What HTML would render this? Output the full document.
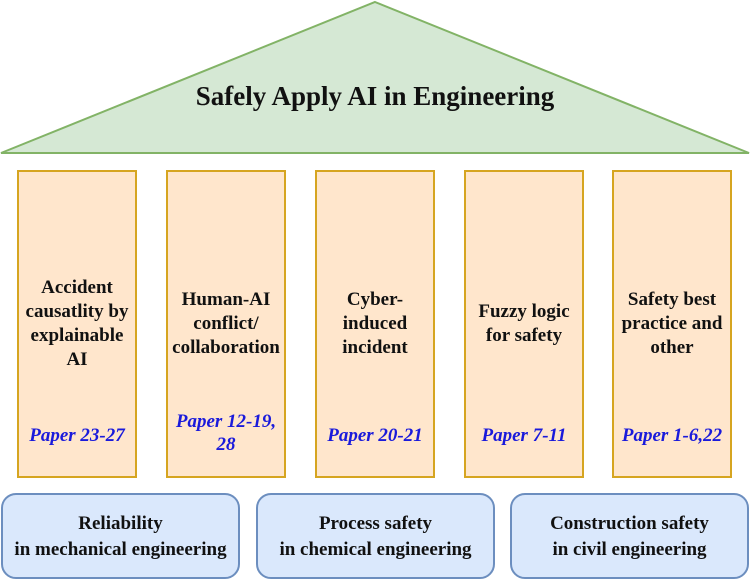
<!DOCTYPE html>
<html><head><style>
body{margin:0;width:750px;height:580px;position:relative;background:#fff;font-family:"Liberation Serif",serif;font-weight:bold;overflow:hidden}
.col{position:absolute;top:170px;width:120px;height:308px;background:#ffe6cc;border:2px solid #d6a520;box-sizing:border-box}
.t{position:absolute;left:-4px;right:-4px;text-align:center;font-size:19px;line-height:24px;color:#111}
.p{position:absolute;left:-6px;right:-6px;text-align:center;font-size:19px;line-height:23px;color:#1a1adb;font-style:italic}
.b{position:absolute;top:493px;height:86px;background:#dae8fc;border:2px solid #6c8ebf;border-radius:15px;box-sizing:border-box;text-align:center;font-size:19px;line-height:26px;padding-top:16px;color:#111}
</style></head><body>
<svg width="750" height="160" style="position:absolute;left:0;top:0">
<polygon points="375,2 749,153 1,153" fill="#d5e8d4" stroke="#82b366" stroke-width="2"/>
<text x="375" y="105" text-anchor="middle" font-family="Liberation Serif" font-weight="bold" font-size="27" fill="#111">Safely Apply AI in Engineering</text>
</svg>
<div class="col" style="left:17px"><div class="t" style="top:104px">Accident<br>causatlity by<br>explainable<br>AI</div><div class="p" style="top:252px">Paper 23-27</div></div>
<div class="col" style="left:166px"><div class="t" style="top:116px">Human-AI<br>conflict/<br>collaboration</div><div class="p" style="top:238px">Paper 12-19,<br>28</div></div>
<div class="col" style="left:315px"><div class="t" style="top:116px">Cyber-<br>induced<br>incident</div><div class="p" style="top:252px">Paper 20-21</div></div>
<div class="col" style="left:464px"><div class="t" style="top:128px">Fuzzy logic<br>for safety</div><div class="p" style="top:252px">Paper 7-11</div></div>
<div class="col" style="left:612px"><div class="t" style="top:116px">Safety best<br>practice and<br>other</div><div class="p" style="top:252px">Paper 1-6,22</div></div>
<div class="b" style="left:1px;width:239px">Reliability<br>in mechanical engineering</div>
<div class="b" style="left:256px;width:239px">Process safety<br>in chemical engineering</div>
<div class="b" style="left:510px;width:239px">Construction safety<br>in civil engineering</div>
</body></html>
